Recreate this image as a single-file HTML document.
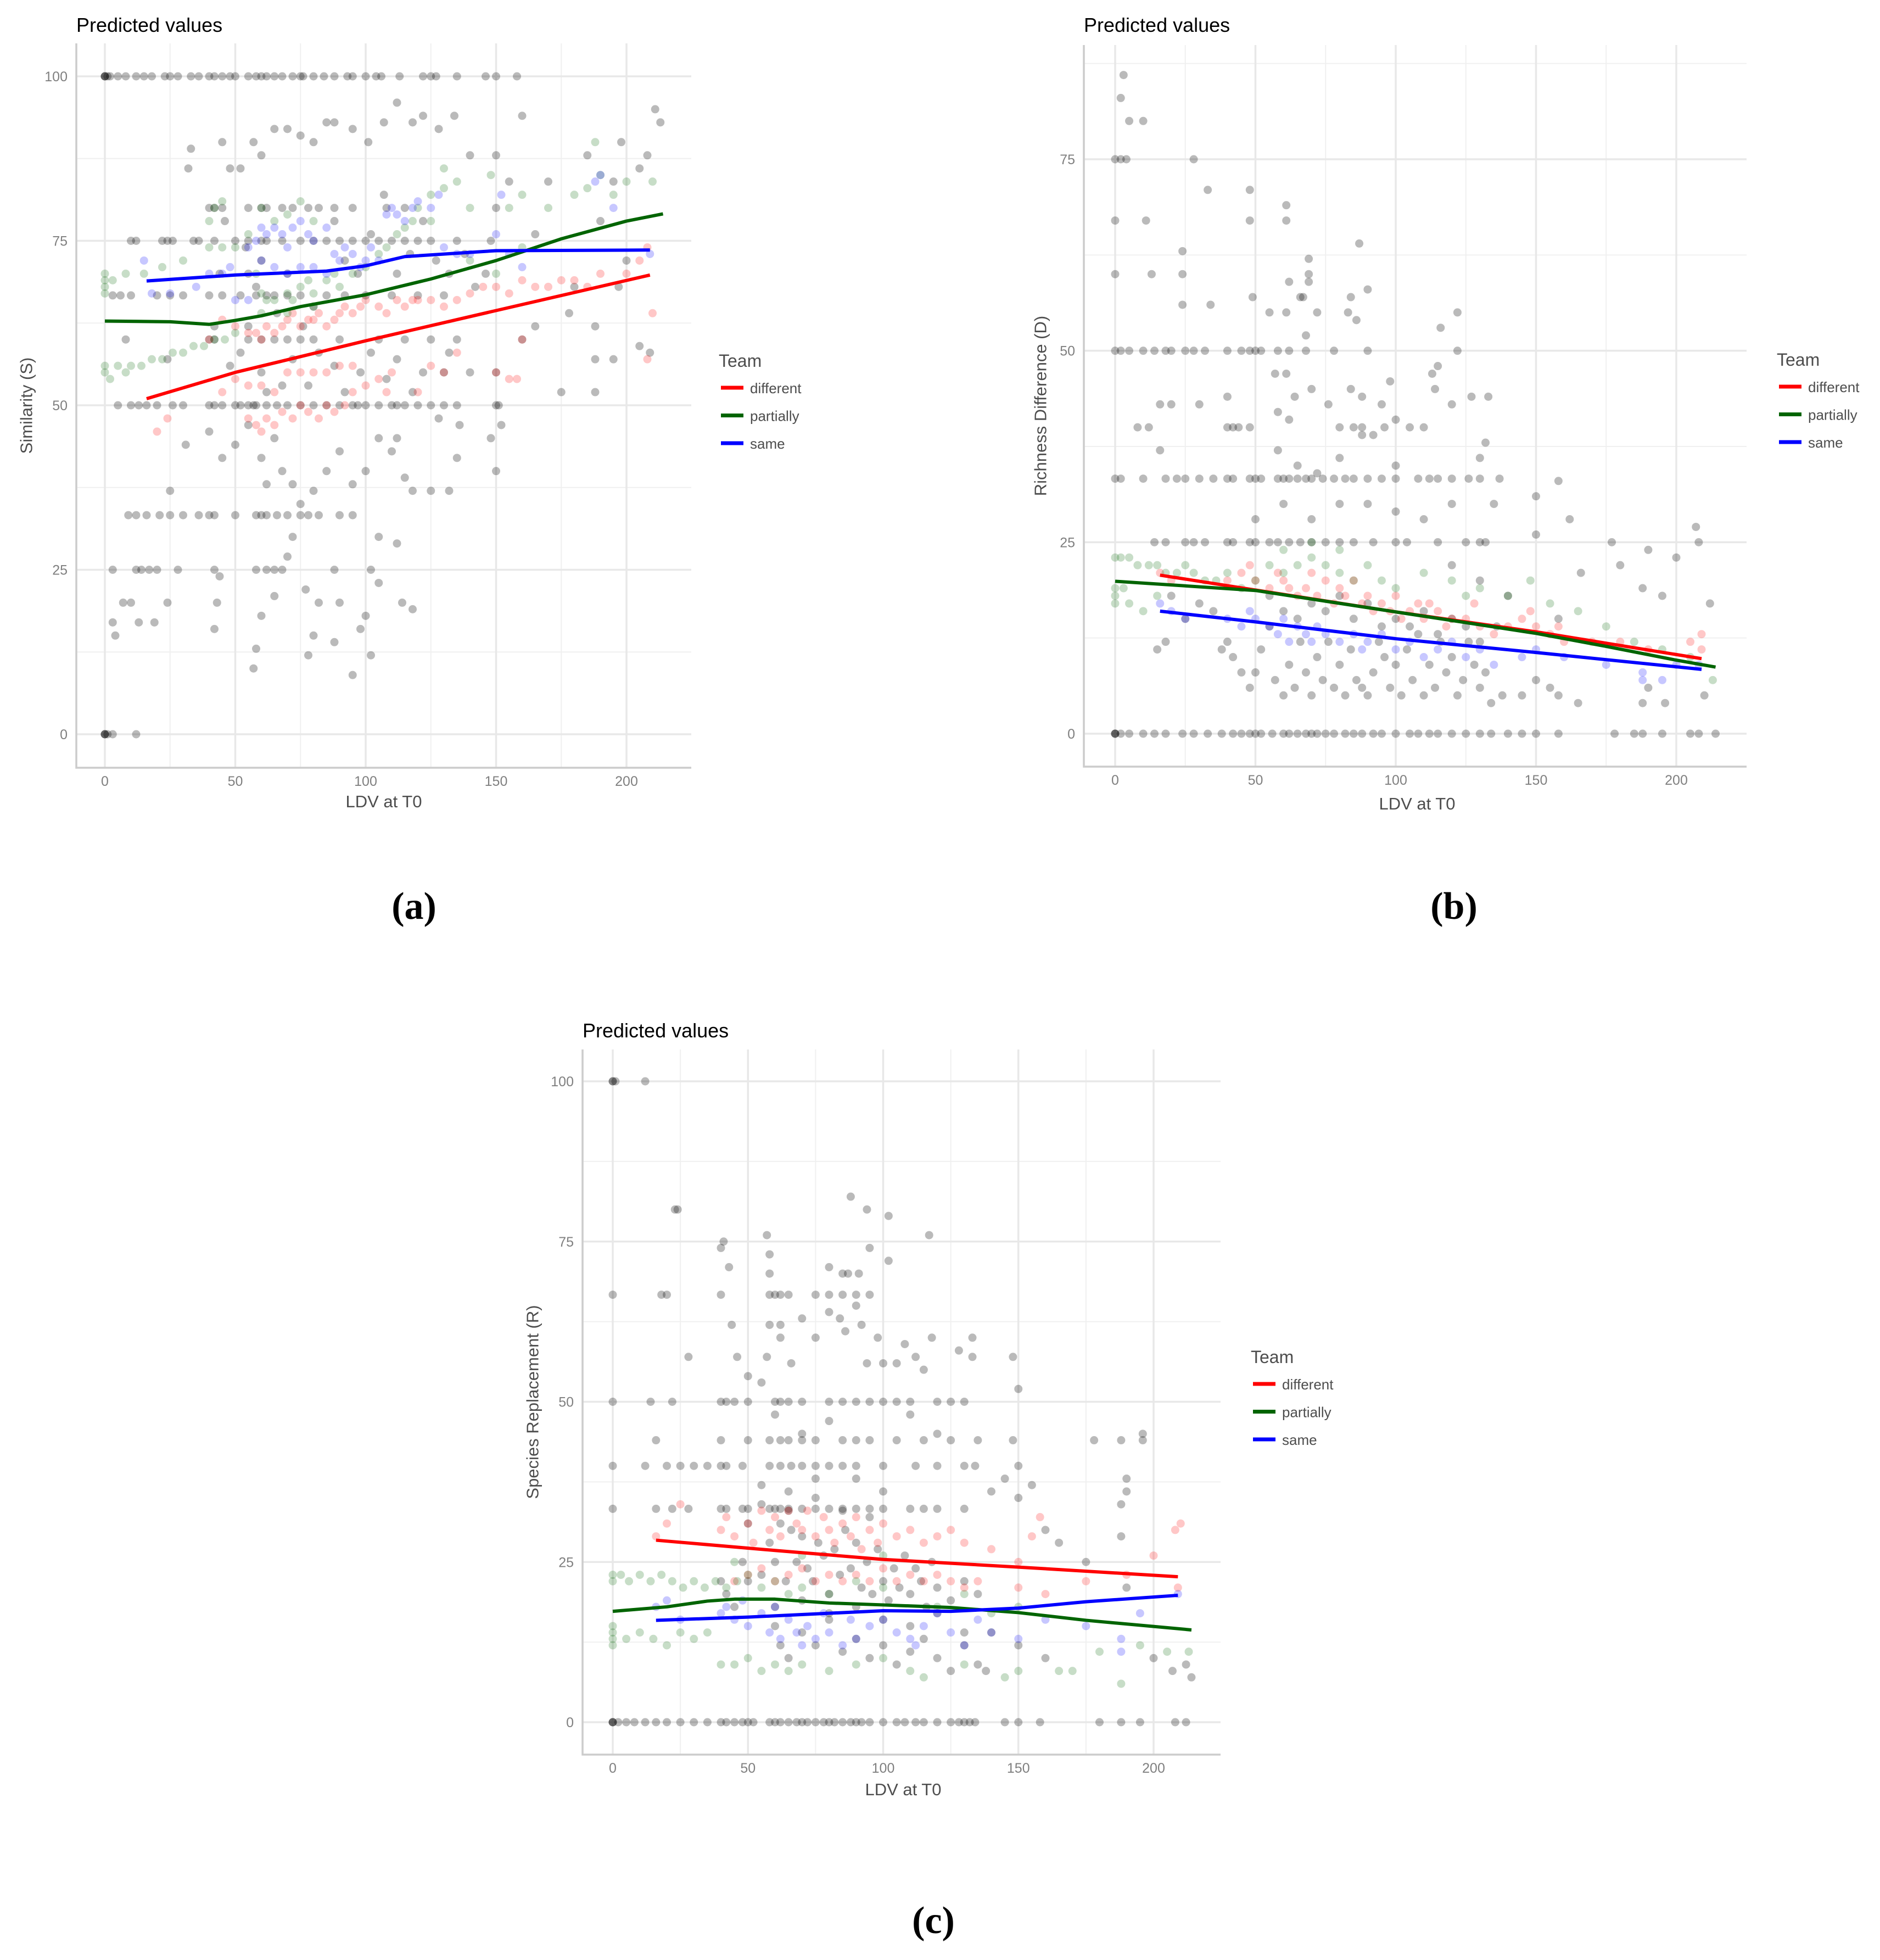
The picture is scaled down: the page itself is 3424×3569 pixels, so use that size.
<!DOCTYPE html>
<html><head><meta charset="utf-8"><style>
html,body{margin:0;padding:0;background:#fff;}
svg{display:block;font-family:"Liberation Sans",sans-serif;}
</style></head><body>
<svg id="fig" xmlns="http://www.w3.org/2000/svg" width="3424" height="3569" viewBox="0 0 3424 3569"></svg>
<script>
// ---------- shared data ----------
const xTicks = [0, 50, 100, 150, 200];
const xMinor = [25, 75, 125, 175];
const teams = ["different", "partially", "same"];
const teamColors = ["#ff0000", "#006400", "#0000ff"];

// ---------- panel A: Similarity ----------
const aYTicks = [0, 25, 50, 75, 100];
const aYMinor = [12.5, 37.5, 62.5, 87.5];
const aDiffLine = [[16,51],[50,55],[100,59.8],[150,64.4],[209,69.8]];
const aPartLine = [[0,62.8],[25,62.7],[40,62.3],[50,62.9],[60,63.6],[75,65],[100,66.8],[125,69.2],[150,72],[175,75.3],[200,78],[214,79.1]];
const aSameLine = [[16,68.9],[50,69.8],[85,70.4],[100,71.2],[115,72.6],[150,73.5],[209,73.6]];
const aRowYs = [100, 0, 50, 75, 66.7, 33.3, 25, 80, 60];
const aRowXs = [
 [0,0,0,1,2,5,8,12,15,18,23,25,28,33,36,40,42,45,48,50,55,58,60,62,65,68,72,75,76,80,84,88,93,95,100,104,106,113,122,125,127,135,146,150,158],
 [0,0,0,1,3,12],
 [5,10,13,16,20,26,30,40,42,45,50,52,55,57,58,62,66,70,75,80,85,90,95,97,100,105,110,112,115,120,125,130,135,150,151],
 [10,12,22,24,26,34,36,42,50,55,60,62,68,75,80,85,90,95,100,105,110,115,120,125,135,148],
 [3,6,10,20,25,30,40,45,52,58,62,65,70,75,85,92,100,110,120,130],
 [9,12,16,21,25,30,36,40,42,50,58,60,62,66,70,75,78,82,90,95],
 [3,12,14,17,20,28,42,58,62,65,68,88,102],
 [40,42,45,55,60,62,68,72,78,82,88,95,108,115],
 [8,40,42,55,60,65,70,75,80,90,105,115,125,135]
];
const aGray = [[3,17],[4,15],[7,20],[10,20],[13,17],[19,17],[24,20],[25,37],[31,44],[24,57],[32,86],[33,89],[45,90],[48,86],[52,86],[57,90],[60,88],[65,92],[70,92],[75,91],[80,90],[85,93],[88,93],[95,92],[101,90],[107,93],[112,96],[118,93],[122,94],[128,92],[134,94],[140,88],[150,88],[160,94],[42,16],[43,20],[44,24],[57,10],[58,13],[60,18],[65,21],[70,27],[72,30],[77,22],[78,12],[80,15],[82,20],[88,14],[90,20],[95,9],[98,16],[100,18],[102,12],[105,23],[105,30],[112,29],[114,20],[118,19],[110,43],[112,45],[115,39],[118,37],[125,37],[132,37],[135,42],[136,47],[130,55],[140,55],[148,45],[150,40],[152,47],[150,55],[160,60],[165,62],[175,52],[178,64],[180,68],[188,52],[188,57],[188,62],[195,57],[197,68],[200,72],[205,86],[208,88],[211,95],[213,93],[209,58],[205,59],[190,78],[185,88],[195,84],[198,90],[155,84],[150,80],[170,84],[165,76],[55,70],[60,72],[65,45],[68,40],[72,38],[75,35],[80,37],[85,40],[90,43],[95,38],[100,40],[105,45],[60,42],[62,38],[55,47],[50,44],[45,42],[40,46],[48,56],[52,58],[55,62],[60,55],[62,52],[68,53],[72,57],[78,53],[82,58],[88,56],[92,52],[98,55],[102,58],[108,54],[112,57],[118,52],[122,55],[128,48],[132,58],[88,78],[92,72],[97,70],[102,76],[107,82],[112,70],[117,73],[122,78],[127,72],[132,70],[138,73],[142,68],[146,70],[80,65],[76,62],[70,70],[66,64],[58,68],[54,74],[46,78],[44,70],[42,62]];
const aRed = [[20,46],[24,48],[40,60],[45,63],[50,62],[55,61],[58,61],[60,60],[62,62],[65,61],[68,62],[70,63],[72,64],[75,62],[78,63],[80,63],[82,64],[85,62],[88,63],[90,64],[92,65],[95,64],[98,65],[100,66],[105,65],[108,64],[112,66],[115,65],[118,66],[120,66],[125,66],[130,65],[135,66],[140,67],[145,68],[150,68],[155,67],[160,69],[165,68],[170,68],[175,69],[180,69],[185,68],[190,70],[200,70],[205,72],[208,74],[210,64],[208,57],[55,48],[58,47],[60,46],[62,48],[65,47],[68,49],[72,48],[75,50],[78,49],[82,48],[85,50],[88,49],[92,50],[95,52],[100,53],[105,54],[108,52],[110,55],[45,52],[50,54],[55,53],[60,53],[65,52],[70,55],[75,55],[80,55],[85,55],[90,56],[95,56],[120,52],[125,56],[130,55],[135,58],[150,55],[155,54],[158,54],[160,60]];
const aGreen = [[0,68],[0,69],[0,70],[0,67],[0,55],[0,56],[2,54],[5,56],[8,55],[10,56],[14,56],[18,57],[22,57],[26,58],[30,58],[34,59],[38,59],[42,60],[46,60],[50,61],[3,69],[8,70],[15,70],[22,71],[30,72],[40,74],[45,74],[50,74],[55,76],[58,70],[60,67],[62,66],[65,66],[70,67],[72,66],[75,68],[78,69],[80,67],[85,69],[88,70],[90,68],[95,70],[100,71],[105,73],[108,74],[112,76],[115,77],[118,78],[120,80],[125,82],[130,83],[135,84],[140,80],[148,85],[155,80],[160,82],[170,80],[180,82],[185,83],[188,90],[190,85],[195,82],[200,84],[210,84],[40,78],[42,80],[45,81],[60,80],[65,78],[70,79],[75,81],[80,78],[125,78],[130,86],[140,72],[150,70],[160,74],[60,64],[70,64],[80,65]];
const aBlue = [[15,72],[18,67],[25,67],[45,70],[48,71],[55,74],[58,75],[60,77],[62,76],[65,77],[68,76],[70,74],[72,77],[75,78],[78,76],[80,75],[85,77],[88,73],[90,72],[92,74],[95,73],[98,71],[100,72],[102,74],[105,72],[108,79],[110,80],[112,79],[115,78],[118,80],[120,81],[125,80],[128,82],[130,74],[135,73],[140,73],[150,76],[152,82],[155,73],[160,71],[188,84],[190,85],[195,80],[209,73],[60,72],[65,71],[70,70],[75,71],[80,71],[85,70],[40,70],[35,68],[50,66],[55,66]];

// ---------- panel B: Richness difference ----------
const bYTicks = [0, 25, 50, 75];
const bYMinor = [12.5, 37.5, 62.5, 87.5];
const bDiffLine = [[16,20.7],[100,15.9],[150,13.3],[209,9.8]];
const bPartLine = [[0,19.9],[50,18.7],[100,15.9],[150,13.1],[175,11.4],[200,9.6],[214,8.7]];
const bSameLine = [[16,16.0],[50,14.6],[100,12.4],[150,10.6],[209,8.4]];
const bRowYs = [0, 33.3, 25, 50, 40];
const bRowXs = [
 [0,0,0,2,5,10,14,18,24,28,33,38,42,45,48,50,52,56,60,62,65,68,70,72,75,78,82,85,88,92,95,100,105,108,112,115,120,125,130,134,140,145,150,158,178,185,188,195,205,208,214],
 [0,2,10,18,22,25,30,35,40,42,48,50,52,58,60,62,65,68,70,74,78,82,85,90,95,100,108,112,115,120,126,130,137],
 [14,18,25,28,32,40,42,48,50,58,62,66,70,75,80,85,92,100,104,115,125,130,132,177],
 [0,2,5,10,14,18,20,25,28,32,40,45,48,50,52,58,62,68,78,90,122],
 [8,12,40,42,44,48,80,85,88,96,105]
];
const bGray = [[3,86],[2,83],[5,80],[10,80],[0,75],[2,75],[4,75],[28,75],[33,71],[48,71],[61,69],[0,67],[11,67],[48,67],[61,67],[87,64],[0,60],[13,60],[24,60],[24,63],[69,62],[69,60],[69,59],[62,59],[90,58],[84,57],[66,57],[34,56],[24,56],[49,57],[67,57],[55,55],[61,55],[72,55],[83,55],[86,54],[122,55],[116,53],[68,52],[113,47],[115,48],[98,46],[57,47],[61,47],[30,43],[20,43],[16,43],[16,37],[40,44],[58,42],[62,41],[64,44],[70,45],[76,43],[84,45],[88,44],[95,43],[114,45],[120,43],[127,44],[133,44],[132,38],[130,36],[88,39],[92,39],[100,41],[110,40],[58,37],[65,35],[72,34],[80,36],[100,35],[120,30],[135,30],[150,31],[158,33],[162,28],[150,26],[190,24],[200,23],[207,27],[208,25],[212,17],[188,19],[195,18],[180,22],[166,21],[158,15],[140,18],[136,14],[130,20],[120,22],[110,28],[100,29],[90,30],[80,30],[70,28],[60,30],[55,25],[50,28],[40,12],[42,10],[45,8],[48,6],[50,8],[52,11],[55,14],[57,7],[60,5],[62,9],[64,6],[66,12],[68,8],[70,5],[72,10],[74,7],[76,12],[78,6],[80,9],[82,5],[84,11],[86,7],[88,6],[90,5],[92,8],[94,12],[96,10],[98,6],[100,9],[102,5],[104,11],[106,7],[108,13],[110,5],[112,9],[114,6],[116,12],[118,8],[120,10],[122,5],[124,7],[126,12],[128,9],[130,6],[132,8],[134,4],[138,5],[145,5],[150,7],[155,6],[158,5],[165,4],[188,4],[190,6],[196,4],[210,5],[55,18],[60,16],[65,15],[70,17],[75,16],[80,18],[85,15],[90,17],[95,14],[100,15],[105,14],[110,16],[115,13],[120,15],[125,14],[130,12],[20,18],[25,15],[30,17],[35,16],[15,11],[18,12],[38,11]];
const bRed = [[16,21],[20,20],[40,20],[45,21],[48,22],[50,20],[55,19],[58,21],[60,20],[62,19],[65,18],[68,19],[70,21],[72,18],[75,20],[78,17],[80,19],[82,18],[85,20],[88,17],[90,18],[92,16],[95,17],[98,16],[100,18],[102,15],[105,16],[108,17],[110,15],[112,17],[115,16],[118,14],[120,15],[125,15],[128,17],[130,14],[135,13],[140,14],[145,15],[148,16],[150,14],[155,13],[158,14],[160,12],[170,12],[180,12],[190,11],[205,12],[209,13],[209,11]];
const bGreen = [[0,17],[0,18],[0,19],[0,23],[2,23],[5,23],[8,22],[12,22],[15,22],[18,21],[22,21],[25,22],[28,21],[32,20],[36,20],[40,21],[45,19],[50,20],[55,22],[60,21],[65,22],[70,23],[75,22],[80,21],[85,20],[90,22],[95,20],[100,19],[110,21],[120,20],[125,18],[130,19],[140,18],[148,20],[155,17],[165,16],[175,14],[185,12],[195,11],[205,10],[213,7],[5,17],[10,16],[15,18],[3,19],[60,24],[70,25],[80,24]];
const bBlue = [[16,17],[20,16],[25,15],[40,15],[45,14],[48,16],[50,15],[55,14],[58,13],[60,15],[62,12],[65,14],[68,13],[70,12],[72,14],[75,13],[80,12],[85,13],[88,11],[90,12],[95,13],[100,11],[105,12],[110,10],[115,11],[120,12],[125,10],[130,11],[135,9],[145,10],[150,11],[160,10],[175,9],[188,7],[188,8],[195,7],[200,9],[208,9]];

// ---------- panel C: Species replacement ----------
const cYTicks = [0, 25, 50, 75, 100];
const cYMinor = [12.5, 37.5, 62.5, 87.5];
const cDiffLine = [[16,28.4],[60,26.8],[100,25.4],[150,24.2],[209,22.7]];
const cPartLine = [[0,17.3],[20,18.0],[35,18.9],[45,19.2],[60,19.2],[80,18.6],[100,18.3],[125,17.9],[150,17.1],[175,15.9],[214,14.4]];
const cSameLine = [[16,15.9],[50,16.4],[100,17.4],[125,17.3],[150,17.8],[175,18.8],[209,19.8]];
const cRowYs = [0, 40, 50, 33.3, 100, 66.7, 44];
const cRowXs = [
 [0,0,0,2,5,8,12,16,20,25,30,35,40,42,45,48,50,52,58,60,62,65,68,70,72,75,78,80,82,85,88,90,92,95,100,105,108,112,115,120,125,128,130,132,134,145,150,158,180,188,195,208,212],
 [0,12,20,25,30,35,40,42,48,58,62,66,70,75,80,85,90,100,112,120,130,134,150],
 [0,14,22,40,42,45,50,60,62,65,70,80,85,90,95,100,105,110,120,125,130],
 [0,16,22,28,40,42,48,50,58,60,62,65,70,75,80,85,90,95,100,110,115,120,130],
 [0,0,1,12],
 [0,18,20,40,58,60,62,65,75,80,85,90,95],
 [16,40,50,58,62,65,70,75,85,90,95,105,115,125,135,148,188,196]
];
const cGray = [[23,80],[24,80],[41,75],[40,74],[43,71],[57,76],[58,73],[58,70],[80,71],[85,70],[87,70],[88,82],[94,80],[102,79],[102,72],[95,74],[91,70],[117,76],[28,57],[44,62],[46,57],[50,54],[57,57],[58,62],[62,62],[62,60],[66,56],[70,63],[75,60],[80,64],[84,63],[86,61],[90,65],[92,62],[94,56],[98,60],[100,56],[105,56],[108,59],[112,57],[115,55],[118,60],[128,58],[133,57],[133,60],[148,57],[150,52],[178,44],[190,38],[190,36],[188,34],[196,45],[140,36],[145,38],[150,35],[155,37],[160,30],[165,28],[175,25],[188,29],[190,21],[200,10],[207,8],[212,9],[214,7],[80,47],[70,45],[60,48],[55,53],[110,48],[120,45],[100,36],[90,38],[75,38],[65,36],[55,37],[40,22],[42,20],[45,18],[48,25],[50,22],[55,23],[58,28],[60,25],[62,31],[64,22],[66,30],[68,25],[70,29],[72,24],[74,22],[76,28],[78,26],[80,20],[82,27],[84,23],[86,30],[88,24],[90,28],[92,21],[94,25],[96,20],[98,27],[100,22],[102,19],[104,24],[106,21],[108,26],[110,20],[112,24],[114,22],[116,18],[118,25],[120,21],[125,19],[130,22],[135,20],[60,15],[62,12],[65,10],[70,14],[75,12],[80,16],[85,11],[90,13],[95,10],[100,12],[105,9],[110,11],[115,13],[120,10],[125,8],[130,12],[135,9],[138,8],[60,18],[70,19],[80,17],[90,18],[100,16],[110,15],[120,17],[130,14],[140,14],[150,12],[160,10],[50,31],[55,34],[65,33],[75,35],[85,33],[95,32]];
const cRed = [[16,29],[20,31],[25,34],[40,30],[42,32],[45,29],[50,31],[52,28],[55,33],[58,30],[60,32],[62,29],[65,33],[68,31],[70,30],[72,33],[75,29],[78,32],[80,30],[82,28],[85,31],[88,29],[90,32],[92,27],[95,30],[98,28],[100,31],[105,29],[110,30],[115,28],[120,29],[125,30],[130,28],[140,27],[150,25],[155,29],[158,32],[175,22],[190,23],[200,26],[208,30],[210,31],[209,21],[45,22],[50,23],[55,24],[60,22],[65,23],[70,24],[75,22],[80,23],[85,22],[90,23],[95,22],[100,24],[105,22],[110,23],[115,22],[120,23],[125,22],[130,21],[135,22],[150,21],[160,20]];
const cGreen = [[0,13],[0,14],[0,15],[0,12],[0,22],[0,23],[3,23],[6,22],[10,23],[14,22],[18,23],[22,22],[26,21],[30,22],[34,21],[38,22],[42,21],[46,22],[50,23],[55,21],[60,22],[65,20],[70,21],[80,20],[90,22],[100,21],[120,18],[130,20],[140,17],[150,18],[5,13],[10,14],[15,13],[20,12],[25,14],[30,13],[35,14],[40,9],[45,9],[50,10],[55,8],[60,9],[65,8],[70,9],[80,8],[90,9],[100,10],[110,8],[115,7],[130,9],[145,7],[150,8],[165,8],[170,8],[180,11],[195,12],[205,11],[213,11],[188,6],[45,25],[70,26],[100,26]];
const cBlue = [[16,18],[20,19],[25,16],[40,17],[42,18],[45,16],[48,19],[50,15],[55,17],[58,14],[60,18],[62,13],[65,16],[68,14],[70,12],[72,15],[75,13],[78,17],[80,14],[85,12],[88,16],[90,13],[95,15],[100,16],[105,14],[110,13],[112,12],[115,15],[120,17],[125,14],[130,12],[135,16],[140,14],[150,13],[160,16],[175,15],[188,13],[188,11],[195,17],[209,20]];

// ---------- rendering ----------
const NS = "http://www.w3.org/2000/svg";
const svg = document.getElementById("fig");
function mk(tag, attrs, parent) {
  const e = document.createElementNS(NS, tag);
  for (const k in attrs) e.setAttribute(k, attrs[k]);
  (parent || svg).appendChild(e);
  return e;
}

const panels = [
  {id:"a", left:139, right:1259, top:79, bottom:1398, x0px:191, x200px:1141, yA:0, yApx:1337, yB:100, yBpx:139,
   yTicks:aYTicks, yMinor:aYMinor, yTitle:"Similarity (S)", yTitleX:48,
   lines:[aDiffLine,aPartLine,aSameLine], rowYs:aRowYs, rowXs:aRowXs, gray:aGray, col:[aRed,aGreen,aBlue],
   titleY:58, xlabX:699, xlabY:1470, legX:1309, legY:668, sub:"(a)", subX:754, subY:1673},
  {id:"b", left:1974, right:3181, top:82, bottom:1396, x0px:2031, x200px:3053, yA:0, yApx:1336, yB:75, yBpx:290,
   yTicks:bYTicks, yMinor:bYMinor, yTitle:"Richness Difference (D)", yTitleX:1895,
   lines:[bDiffLine,bPartLine,bSameLine], rowYs:bRowYs, rowXs:bRowXs, gray:bGray, col:[bRed,bGreen,bBlue],
   titleY:58, xlabX:2581, xlabY:1474, legX:3236, legY:666, sub:"(b)", subX:2648, subY:1673},
  {id:"c", left:1061, right:2223, top:1911, bottom:3195, x0px:1116, x200px:2101, yA:0, yApx:3136, yB:100, yBpx:1969,
   yTicks:cYTicks, yMinor:cYMinor, yTitle:"Species Replacement (R)", yTitleX:970,
   lines:[cDiffLine,cPartLine,cSameLine], rowYs:cRowYs, rowXs:cRowXs, gray:cGray, col:[cRed,cGreen,cBlue],
   titleY:1889, xlabX:1645, xlabY:3269, legX:2278, legY:2482, sub:"(c)", subX:1700, subY:3520}
];

panels.forEach(p => {
  const xs = v => p.x0px + (p.x200px - p.x0px) * v / 200;
  const ys = v => p.yApx + (p.yBpx - p.yApx) * (v - p.yA) / (p.yB - p.yA);
  const g = mk("g", {});
  
  

  const grid = mk("g", {}, g);
  
  
  p.yMinor.forEach(v => { const y = ys(v); if (y > p.top) mk("line", {x1:p.left, x2:p.right, y1:y, y2:y, stroke:"#f0f0f0", "stroke-width":2}, grid); });
  xMinor.forEach(v => { const x = xs(v); mk("line", {x1:x, x2:x, y1:p.top, y2:p.bottom, stroke:"#f0f0f0", "stroke-width":2}, grid); });
  p.yTicks.forEach(v => { const y = ys(v); mk("line", {x1:p.left, x2:p.right, y1:y, y2:y, stroke:"#e8e8e8", "stroke-width":3.5}, grid); });
  xTicks.forEach(v => { const x = xs(v); mk("line", {x1:x, x2:x, y1:p.top, y2:p.bottom, stroke:"#e8e8e8", "stroke-width":3.5}, grid); });

  const pts = mk("g", {}, g);
  
  
  const dot = (x, y, fill) => mk("circle", {cx:xs(x), cy:ys(y), r:7.5, fill:fill}, pts);
  p.rowYs.forEach((yv, i) => p.rowXs[i].forEach(xv => dot(xv, yv, "rgba(0,0,0,0.27)")));
  p.gray.forEach(d => dot(d[0], d[1], "rgba(0,0,0,0.27)"));
  const cfill = ["rgba(255,0,0,0.22)", "rgba(0,100,0,0.22)", "rgba(0,0,255,0.22)"];
  p.col.forEach((arr, i) => arr.forEach(d => dot(d[0], d[1], cfill[i])));

  const ax = mk("path", {d:`M${p.left},${p.top} L${p.left},${p.bottom} L${p.right},${p.bottom}`, fill:"none", stroke:"#cccccc", "stroke-width":3.5}, g);
  
  

  p.lines.forEach((ln, i) => {
    const pl = mk("polyline", {points: ln.map(d => xs(d[0]) + "," + ys(d[1])).join(" "), fill:"none", stroke:teamColors[i], "stroke-width":6, "stroke-linejoin":"round"}, g);
    
    
  });

  xTicks.forEach(v => {
    const t = mk("text", {x:xs(v), y:p.bottom + 33, "text-anchor":"middle", "font-size":25, fill:"#7f7f7f"}, g);
    t.textContent = v;
    
    
  });
  p.yTicks.forEach(v => {
    const t = mk("text", {x:p.left - 16, y:ys(v) + 9, "text-anchor":"end", "font-size":25, fill:"#7f7f7f"}, g);
    t.textContent = v;
    
    
  });

  const tt = mk("text", {x:p.left, y:p.titleY, "font-size":36, fill:"#000"}, g);
  tt.textContent = "Predicted values";
  
  
  const xl = mk("text", {x:p.xlabX, y:p.xlabY, "text-anchor":"middle", "font-size":31, fill:"#4d4d4d"}, g);
  xl.textContent = "LDV at T0";
  
  
  const yc = (p.top + p.bottom) / 2;
  const yl = mk("text", {x:p.yTitleX, y:yc, "text-anchor":"middle", "font-size":31, fill:"#4d4d4d", "dominant-baseline":"central", transform:`rotate(-90 ${p.yTitleX} ${yc})`}, g);
  yl.textContent = p.yTitle;
  
  

  const lg = mk("g", {}, g);
  
  
  const lt = mk("text", {x:p.legX, y:p.legY, "font-size":32, fill:"#4d4d4d"}, lg);
  lt.textContent = "Team";
  
  
  teams.forEach((nm, i) => {
    const y = p.legY + 38 + i * 50.5;
    const e = mk("g", {}, lg);
    
    
    mk("line", {x1:p.legX + 4, x2:p.legX + 45, y1:y, y2:y, stroke:teamColors[i], "stroke-width":7}, e);
    const tx = mk("text", {x:p.legX + 57, y:y + 10, "font-size":26, fill:"#4d4d4d"}, e);
    tx.textContent = nm;
  });

  const sl = mk("text", {x:p.subX, y:p.subY, "text-anchor":"middle", "font-size":70, "font-weight":"bold", "font-family":"Liberation Serif, serif", fill:"#000"}, g);
  sl.textContent = p.sub;
  
  
});
</script>
</body></html>
